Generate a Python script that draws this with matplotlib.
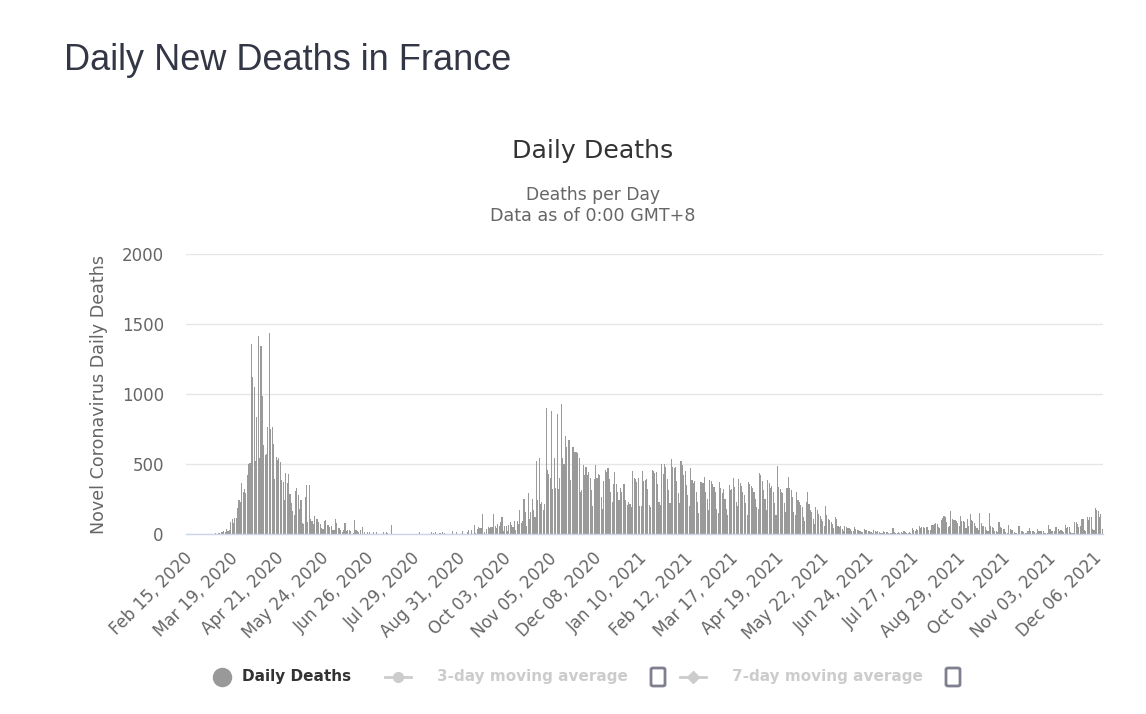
import pandas as pd
import numpy as np
from matplotlib import pyplot as plt
from matplotlib import font_manager
from matplotlib.lines import Line2D
from matplotlib.patches import FancyBboxPatch
from matplotlib.transforms import ScaledTranslation

# daily deaths, one list per month
feb_2020 = [1, 0, 0, 0, 0, 0, 0, 0, 0, 0, 0, 1, 0, 0, 0]
mar_2020 = [0, 1, 1, 0, 2, 3, 7, 3, 6, 8, 15, 13, 18, 12, 36, 21, 27, 89, 108, 78,
            112, 112, 186, 240, 231, 365, 299, 319, 292, 418, 499]
apr_2020 = [509, 1355, 1120, 1053, 518, 833, 1417, 541, 1341, 987, 635, 561, 574, 762, 1438,
            753, 761, 642, 395, 547, 531, 544, 516, 389, 369, 242, 437, 367, 427, 289]
may_2020 = [218, 166, 135, 306, 330, 278, 178, 243, 80, 70, 263, 348, 83, 351, 104, 96,
            70, 131, 110, 110, 83, 74, 43, 35, 90, 98, 65, 66, 52, 57, 31]
jun_2020 = [31, 107, 81, 44, 46, 27, 13, 31, 80, 23, 27, 28, 24, 0, 9, 100, 28, 21, 14, 29,
            0, 48, 11, 0, 12, 0, 14, 0, 0, 14]
jul_2020 = [0, 14, 0, 0, 0, 0, 12, 0, 11, 10, 0, 0, 67, 0, 0, 0, 0, 0, 0, 0,
            0, 0, 0, 0, 0, 0, 0, 0, 0, 0, 0]
aug_2020 = [0, 12, 0, 0, 0, 0, 0, 0, 0, 0, 11, 10, 0, 12, 0, 0, 10, 0, 12, 9,
            0, 0, 0, 0, 0, 19, 0, 0, 16, 0, 0]
sep_2020 = [0, 25, 0, 0, 0, 12, 30, 0, 32, 0, 65, 10, 35, 48, 40, 44, 144, 12, 0, 35,
            50, 40, 48, 52, 144, 60, 40, 72, 60, 85]
oct_2020 = [120, 24, 60, 58, 20, 62, 84, 62, 50, 96, 30, 96, 70, 175, 77, 90, 252, 154, 60, 293,
            108, 160, 252, 170, 120, 522, 240, 540, 216, 231, 170]
nov_2020 = [216, 901, 456, 432, 400, 877, 324, 541, 330, 860, 324, 400, 932, 540, 500,
            697, 625, 673, 673, 385, 625, 625, 589, 589, 577, 540, 300, 312, 493, 420]
dec_2020 = [480, 420, 440, 400, 314, 200, 390, 495, 400, 430, 420, 265, 180, 380,
            460, 445, 470, 390, 300, 230, 360, 440, 360, 300, 240, 330, 300, 360,
            360, 240, 205]
jan_2021 = [230, 217, 190, 447, 400, 390, 375, 400, 200, 200, 447, 380, 386, 390, 320, 205, 190,
            460, 450, 435, 445, 360, 230, 210, 502, 430, 502, 480, 390, 314, 220]
feb_2021 = [536, 480, 470, 480, 380, 290, 220, 519, 495, 420, 450, 350, 280, 200,
            470, 385, 362, 380, 300, 230, 150, 375, 370, 362, 410, 300, 250, 170]
mar_2021 = [386, 380, 360, 338, 300, 181, 150, 375, 330, 290, 320, 250, 180, 133,
            350, 314, 325, 398, 338, 230, 200, 391, 362, 340, 300, 278, 220, 133,
            375, 360, 340]
apr_2021 = [330, 300, 250, 193, 180, 435, 420, 380, 314, 250, 169, 386, 362, 330, 340,
            300, 220, 133, 483, 338, 320, 300, 290, 220, 157, 330, 410, 326, 314, 265]
may_2021 = [160, 133, 300, 240, 230, 210, 193, 120, 95, 230, 300, 217, 170, 157, 110, 72,
            193, 169, 145, 130, 110, 95, 60, 198, 133, 110, 100, 85, 70, 45, 120]
jun_2021 = [110, 60, 48, 55, 36, 20, 60, 52, 45, 40, 36, 24, 18, 48, 36, 30, 28, 24, 15, 12,
            36, 30, 28, 24, 20, 12, 10, 28, 24, 12]
jul_2021 = [20, 15, 10, 8, 24, 16, 12, 14, 10, 8, 5, 43, 12, 10, 8, 12, 10, 12, 8, 24,
            12, 10, 8, 12, 10, 40, 28, 20, 36, 30, 55]
aug_2021 = [45, 52, 48, 43, 50, 52, 28, 30, 67, 65, 70, 76, 74, 52, 45, 100, 114, 128, 125, 83,
            52, 60, 167, 107, 100, 100, 90, 76, 60, 131, 95]
sep_2021 = [90, 83, 40, 107, 60, 143, 100, 90, 76, 60, 40, 30, 148, 76, 60, 60, 52, 30, 20, 148,
            60, 52, 45, 24, 20, 15, 88, 48, 40, 36]
oct_2021 = [36, 12, 10, 67, 36, 30, 28, 12, 10, 8, 55, 55, 24, 20, 15, 10, 8, 24, 40, 24,
            20, 24, 12, 10, 36, 24, 24, 22, 24, 10, 8]
nov_2021 = [5, 67, 36, 24, 20, 18, 48, 48, 36, 24, 31, 20, 15, 67, 43, 48, 52, 12, 10, 8,
            88, 86, 71, 52, 60, 107, 107, 30, 20, 119]
dec_2021 = [100, 124, 124, 36, 30, 186, 170, 162, 124, 143, 36]

daily_deaths = (feb_2020 + mar_2020 + apr_2020 + may_2020 + jun_2020 + jul_2020 + aug_2020
                + sep_2020 + oct_2020 + nov_2020 + dec_2020 + jan_2021 + feb_2021 + mar_2021
                + apr_2021 + may_2021 + jun_2021 + jul_2021 + aug_2021 + sep_2021 + oct_2021
                + nov_2021 + dec_2021)

start_date = '2020-02-15'
tick_step = 33
y_ticks = [0, 500, 1000, 1500, 2000]

# narrow bold face for the legend, if there is one
installed = {f.name for f in font_manager.fontManager.ttflist}
legend_font = 'Liberation Sans Narrow' if 'Liberation Sans Narrow' in installed else 'DejaVu Sans'
legend_size = 14 if legend_font == 'Liberation Sans Narrow' else 11

dates = pd.date_range(start_date, periods=len(daily_deaths), freq='D')
x = np.arange(len(daily_deaths))

W, H = 1146, 714
fig = plt.figure(figsize=(W / 100, H / 100), dpi=100)
ax = fig.add_axes([186 / W, 1 - 534 / H, (1103 - 186) / W, (534 - 254) / H])

ax.bar(x, daily_deaths, width=0.8, color='#9a9a9a', linewidth=0, zorder=2)

ax.set_xlim(-0.5, len(daily_deaths) - 0.5)
ax.set_ylim(0, 2000)
ax.set_yticks(y_ticks)
ax.set_yticklabels([str(v) for v in y_ticks], fontsize=12, color='#666666',
                   family='DejaVu Sans')
ax.yaxis.grid(True, color='#e6e6e6', linewidth=1, zorder=0)
ax.tick_params(axis='y', length=0, pad=16)

tick_idx = list(range(0, len(daily_deaths), tick_step))
ax.set_xticks(tick_idx)
ax.set_xticklabels([dates[i].strftime('%b %d, %Y') for i in tick_idx], rotation=45,
                   ha='right', rotation_mode='anchor', fontsize=12, color='#666666',
                   family='DejaVu Sans')
ax.tick_params(axis='x', length=0, pad=11)
shift = ScaledTranslation(-3 / 100, 0, fig.dpi_scale_trans)
for lab in ax.get_xticklabels():
    lab.set_transform(lab.get_transform() + shift)

for side in ['top', 'right', 'left']:
    ax.spines[side].set_visible(False)
ax.spines['bottom'].set_color('#ccd6eb')
ax.spines['bottom'].set_linewidth(1)
ax.spines['bottom'].set_zorder(3)

ax.set_ylabel('Novel Coronavirus Daily Deaths', fontsize=12.6, color='#666666',
              family='DejaVu Sans', labelpad=10)

# titles
fig.text(64 / W, 1 - 60 / H, 'Daily New Deaths in France', fontsize=26,
         family='Liberation Sans', color='#333745', va='center', ha='left')
fig.text(593 / W, 1 - 151 / H, 'Daily Deaths', fontsize=18.2, family='DejaVu Sans',
         color='#333333', va='center', ha='center')
fig.text(593 / W, 1 - 195 / H, 'Deaths per Day', fontsize=12.3, family='DejaVu Sans',
         color='#666666', va='center', ha='center')
fig.text(593 / W, 1 - 216 / H, 'Data as of 0:00 GMT+8', fontsize=12.6, family='DejaVu Sans',
         color='#666666', va='center', ha='center')

# legend, drawn by hand
ly = 1 - 677 / H
fig.add_artist(Line2D([222 / W], [ly], marker='o', markersize=13, color='#999999',
                      linestyle='none', transform=fig.transFigure))
fig.text(242 / W, ly, 'Daily Deaths', fontsize=legend_size, fontweight='bold', color='#333333',
         va='center', ha='left', family=legend_font)
for x0, label, box_x, mk in [(385, '3-day moving average', 658, 'o'),
                             (680, '7-day moving average', 953, 'D')]:
    fig.add_artist(Line2D([x0 / W, (x0 + 26) / W], [ly, ly], color='#cccccc', linewidth=2,
                          transform=fig.transFigure))
    fig.add_artist(Line2D([(x0 + 13) / W], [ly], marker=mk, markersize=7 if mk == 'o' else 6,
                          color='#cccccc', linestyle='none', transform=fig.transFigure))
    fig.text((x0 + 52) / W, ly, label, fontsize=legend_size, fontweight='bold', color='#cccccc',
             va='center', ha='left', family=legend_font)
    fig.add_artist(FancyBboxPatch(((box_x - 7) / W, ly - 9 / H), 14 / W, 18 / H,
                                  boxstyle='round,pad=0,rounding_size=0.002',
                                  transform=fig.transFigure, facecolor='white',
                                  edgecolor='#7f7f90', linewidth=2))

plt.savefig('out.png', dpi=100)
plt.close()
